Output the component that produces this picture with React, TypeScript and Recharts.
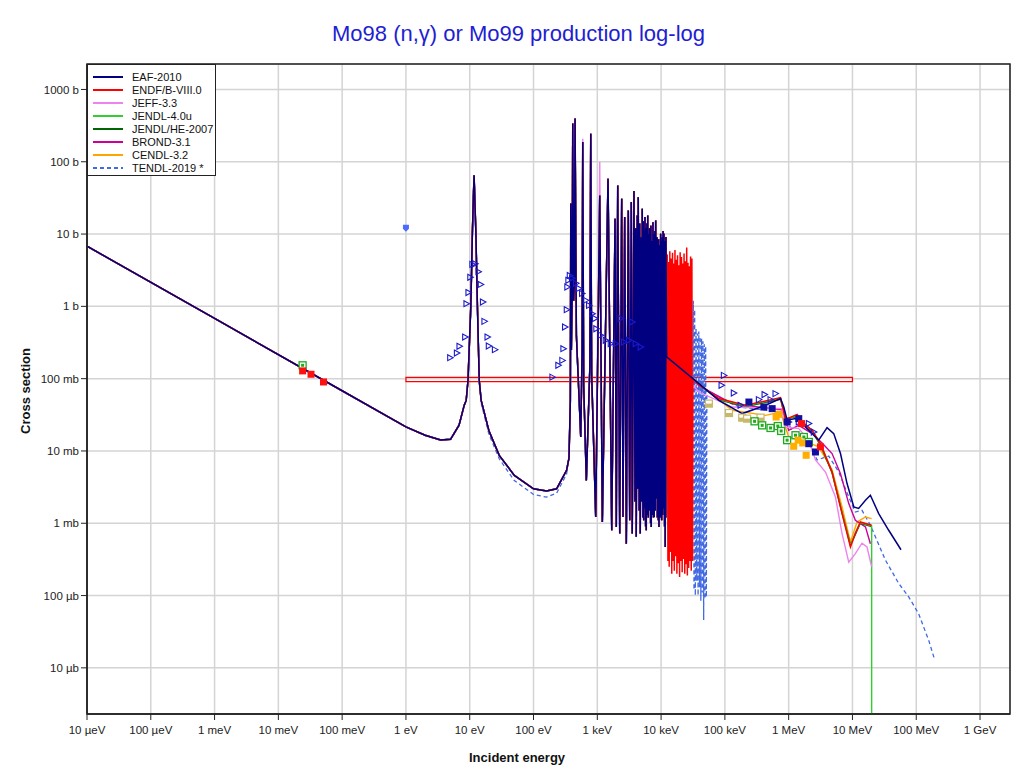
import React from "react";
import {
  ComposedChart,
  Line,
  Scatter,
  XAxis,
  YAxis,
  CartesianGrid,
  ReferenceArea,
} from "recharts";

type Pt = [number, number];

// energy in eV, cross section in barn
const energyTicks = [1e-5, 1e-4, 1e-3, 1e-2, 1e-1, 1, 10, 100, 1e3, 1e4, 1e5, 1e6, 1e7, 1e8, 1e9];
const energyLabels = ["10 µeV", "100 µeV", "1 meV", "10 meV", "100 meV", "1 eV", "10 eV", "100 eV", "1 keV", "10 keV", "100 keV", "1 MeV", "10 MeV", "100 MeV", "1 GeV"];
const xsTicks = [1e-5, 1e-4, 1e-3, 1e-2, 1e-1, 1, 10, 100, 1000];
const xsLabels = ["10 µb", "100 µb", "1 mb", "10 mb", "100 mb", "1 b", "10 b", "100 b", "1000 b"];
const energyDomain: Pt = [1e-5, 2.95e9];
const xsDomain: Pt = [2.3e-6, 2250];

// thermal 1/v part and the 12 eV resonance
const thermalPart: Pt[] = [
  [1e-5, 6.8], [1e-3, 0.68], [0.1, 0.068], [1, 0.0215], [2, 0.0165], [3.5, 0.0142], [5, 0.0145],
  [6.8, 0.0227], [8.2, 0.043], [8.8, 0.05], [9.4, 0.095], [10.4, 1.0], [11.0, 10], [11.4, 32],
  [11.7, 65], [12.0, 32], [12.5, 10], [13.2, 1.0], [14.1, 0.095], [15.1, 0.05], [20, 0.019],
  [29, 0.0087], [50, 0.0046], [100, 0.003], [160, 0.0028], [230, 0.003], [330, 0.0054],
];

const tendlLow: Pt[] = [
  [1e-5, 6.8], [1e-3, 0.68], [0.1, 0.068], [1, 0.0215], [2, 0.0163], [3.5, 0.014], [5, 0.0143],
  [6.8, 0.0225], [8.2, 0.042], [8.8, 0.05], [9.4, 0.095], [10.4, 1.0], [11.0, 10], [11.4, 32],
  [11.7, 65], [12.0, 32], [12.5, 10], [13.2, 1.0], [14.1, 0.09], [15.1, 0.046], [20, 0.017],
  [29, 0.0078], [50, 0.0039], [100, 0.0025], [160, 0.0023], [230, 0.0026], [330, 0.0048],
];

// resolved resonances 350 eV - 12 keV
const resolvedPart: Pt[] = [
  [360, 0.008], [378, 0.05], [384, 26.5], [392, 0.25], [404, 1.5], [412, 339], [426, 1.2],
  [440, 2.5], [448, 397], [470, 0.4], [550, 0.0156], [578, 0.25], [591, 187], [612, 0.08],
  [673, 0.0039], [765, 0.15], [789, 244], [815, 0.12], [944, 0.00122], [1092, 34.2],
  [1199, 0.00104], [1472, 58.2], [1683, 0.0008], [1897, 16.3], [1986, 0.00089], [2089, 47.1],
  [2246, 0.00072], [2412, 30.8], [2529, 0.00122], [2687, 17.2], [2851, 0.00052], [3063, 21.2],
  [3221, 0.0011], [3412, 27.7], [3532, 0.00072], [3758, 39.3], [3900, 0.002], [3990, 12],
  [4083, 0.00065], [4230, 18], [4300, 0.003], [4387, 32.4], [4540, 0.0015], [4620, 14],
  [4718, 0.00072], [4880, 9], [4960, 0.002], [5070, 22.4], [5200, 0.0012], [5260, 15],
  [5333, 0.0011], [5450, 11], [5520, 0.0016], [5589, 17.2], [5720, 0.0009], [5790, 12],
  [5861, 0.0008], [6000, 14], [6080, 0.0013], [6166, 18.1], [6300, 0.0012], [6380, 10],
  [6457, 0.0021], [6580, 12], [6640, 0.0015], [6699, 9.1], [6850, 0.001], [6930, 13],
  [7015, 0.00089], [7200, 8], [7300, 0.0013], [7458, 14.6], [7600, 0.0012], [7700, 10],
  [7816, 0.00122], [8000, 11], [8100, 0.0015], [8222, 15.4], [8380, 0.0022], [8450, 8],
  [8520, 0.0035], [8650, 9], [8740, 0.0012], [8833, 7.4], [9050, 0.0011], [9150, 8.5],
  [9268, 0.00089], [9550, 7], [9680, 0.0012], [9842, 10.1], [10000, 0.0014], [10100, 8],
  [10210, 0.0011], [10450, 9], [10600, 0.0013], [10750, 11], [10900, 0.0016], [11090, 10.1],
  [11350, 0.0009], [11450, 8], [11620, 0.00047], [11750, 7.5], [11840, 0.0012], [11910, 9.1],
  [12220, 0.2],
];

const jeffPeakOverrides: Pt[] = [[591, 208], [1092, 98.9]];

const endfUnresolved: Pt[] = [
  [12500, 5.2], [12800, 0.0003], [13100, 4.1], [13400, 0.00025], [13700, 5.8], [14000, 0.0004],
  [14400, 4.6], [14700, 0.0002], [15100, 5.5], [15400, 0.0003], [15800, 3.9], [16100, 0.00022],
  [16500, 6.0], [16900, 0.00035], [17300, 4.4], [17700, 0.0002], [18100, 5.1], [18600, 0.00028],
  [19000, 3.7], [19500, 0.00018], [19900, 5.6], [20400, 0.0003], [20900, 4.8], [21400, 0.00021],
  [21900, 3.9], [22400, 0.00032], [22900, 5.4], [23500, 0.0002], [24000, 4.2], [24600, 0.00027],
  [25200, 6.5], [25800, 0.00019], [26400, 4.0], [27000, 0.00024], [27700, 3.6], [28300, 0.0003],
  [29000, 4.9], [29700, 0.00022], [30400, 4.6], [31100, 0.0003], [31500, 0.1],
];

const tendlUnresolved: Pt[] = [
  [31500, 0.1], [32000, 1.2], [32800, 0.00012], [33600, 0.9], [34400, 0.0001], [35300, 0.5],
  [36200, 0.00016], [37100, 0.42], [38000, 0.0001], [39000, 0.45], [40000, 0.00013], [41000, 0.38],
  [42000, 0.000085], [43100, 0.36], [44200, 0.00011], [45300, 0.33], [46500, 0.000046], [47700, 0.3],
  [48900, 0.00009], [50000, 0.28], [51200, 0.000095], [52200, 0.07],
];

const eafHigh: Pt[] = [
  [39200, 0.0854], [80500, 0.05], [187000, 0.0329], [434000, 0.0428], [745000, 0.053],
  [839000, 0.0405], [946000, 0.0266], [1.28e6, 0.028], [1.62e6, 0.0239], [2.33e6, 0.0174],
  [2.96e6, 0.0141], [4.0e6, 0.021], [5.09e6, 0.0174], [6.49e6, 0.0092], [8.23e6, 0.00354],
  [1.05e7, 0.00168], [1.25e7, 0.0016], [1.6e7, 0.00208], [1.91e7, 0.00244], [2.58e7, 0.00136],
  [3.7e7, 0.0008], [5.77e7, 0.00043],
];

const endfHigh: Pt[] = [
  [39200, 0.083], [80500, 0.053], [211000, 0.0428], [745000, 0.0547], [892000, 0.0272],
  [1.36e6, 0.0321], [1.62e6, 0.0252], [2.33e6, 0.0193], [3.15e6, 0.0126], [4.79e6, 0.0051],
  [6.87e6, 0.00136], [9.3e6, 0.00047], [1.11e7, 0.00072], [1.33e7, 0.00104], [2e7, 0.00094],
];

const jeffHigh: Pt[] = [
  [39200, 0.0653], [130000, 0.0405], [789000, 0.0385], [892000, 0.0214], [1.44e6, 0.0204],
  [2.07e6, 0.0141], [2.63e6, 0.0075], [3.78e6, 0.0051], [5.41e6, 0.00231], [6.87e6, 0.00072],
  [8.75e6, 0.00029], [1.11e7, 0.00038], [1.41e7, 0.00053], [1.69e7, 0.00047], [2e7, 0.00025],
];

const jendl40High: Pt[] = [
  [39200, 0.083], [80500, 0.052], [211000, 0.042], [745000, 0.054], [892000, 0.027],
  [1.36e6, 0.031], [1.62e6, 0.025], [2.33e6, 0.019], [3.15e6, 0.0125], [4.79e6, 0.0052],
  [6.87e6, 0.0014], [9.3e6, 0.00049], [1.11e7, 0.00074], [1.33e7, 0.00102], [2e7, 0.00092],
  [2e7, 1e-9],
];

const jendlHeHigh: Pt[] = [
  [39200, 0.084], [80500, 0.051], [211000, 0.041], [745000, 0.052], [892000, 0.028],
  [1.36e6, 0.03], [2.33e6, 0.0185], [3.15e6, 0.012], [4.79e6, 0.005], [6.87e6, 0.0014],
  [9.3e6, 0.0005], [1.11e7, 0.0007], [1.33e7, 0.001], [2e7, 0.0009],
];

const brondHigh: Pt[] = [
  [39200, 0.08], [130000, 0.045], [789000, 0.037], [1.0e6, 0.0193], [1.44e6, 0.0226],
  [2.33e6, 0.0174], [3.34e6, 0.0129], [4.79e6, 0.0092], [6.49e6, 0.00486], [8.75e6, 0.00187],
  [1.11e7, 0.0011], [1.6e7, 0.00089], [1.91e7, 0.00052],
];

const cendlHigh: Pt[] = [
  [39200, 0.085], [130000, 0.0365], [434000, 0.0311], [745000, 0.0346], [1.0e6, 0.0156],
  [2.07e6, 0.0129], [2.96e6, 0.0114], [4.79e6, 0.0055], [6.87e6, 0.00168], [9.3e6, 0.00055],
  [1.18e7, 0.00104], [1.6e7, 0.00122], [2e7, 0.00116],
];

const tendlHigh: Pt[] = [
  [71500, 0.059], [166000, 0.0405], [789000, 0.0346], [1.13e6, 0.0193], [2.07e6, 0.0133],
  [2.79e6, 0.0075], [4.25e6, 0.0085], [6.1e6, 0.00512], [8.75e6, 0.00231], [1.11e7, 0.00143],
  [1.41e7, 0.00151], [1.91e7, 0.00094], [3.28e7, 0.00031], [5.31e7, 0.000147], [7.62e7, 9.6e-5],
  [1.09e8, 5.6e-5], [1.57e8, 2.4e-5], [1.94e8, 1.3e-5],
];

// measured points
const triangleData: Pt[] = [
  [4.94, 0.195], [6.29, 0.226], [6.91, 0.28], [8.48, 0.376], [8.89, 1.09], [9.55, 1.55],
  [10.2, 2.52], [11.0, 3.81], [12.2, 3.89], [13.7, 3.02], [14.9, 2.01], [16.1, 1.15],
  [17.0, 0.62], [19.0, 0.376], [19.9, 0.283], [24.8, 0.252],
  [198, 0.105], [245, 0.153], [283, 0.179], [294, 0.26], [312, 0.518], [332, 0.9], [339, 1.85],
  [352, 2.29], [370, 2.68], [402, 2.44], [464, 2.08], [517, 1.77], [577, 1.51], [659, 1.21],
  [742, 1.03], [836, 0.79], [921, 0.68], [966, 0.49], [1132, 0.4], [1355, 0.339], [1624, 0.305],
  [1942, 0.305], [2327, 0.68], [2620, 0.321], [3138, 0.339], [3535, 0.607], [3996, 0.305],
  [4787, 0.274],
  [88700, 0.0809], [96400, 0.111], [138000, 0.0633], [176000, 0.0428], [341000, 0.0513],
  [419000, 0.0602], [520000, 0.0513], [622000, 0.0621], [1.0e6, 0.0252], [1.44e6, 0.0252],
  [2.07e6, 0.0239], [2.48e6, 0.0183],
];
const navySquareData: Pt[] = [
  [238000, 0.0475], [408000, 0.0405], [551000, 0.0385], [946000, 0.0252], [1.44e6, 0.028],
  [2.07e6, 0.0126], [2.63e6, 0.00968],
];
const tanSquareData: Pt[] = [
  [56100, 0.0452], [116000, 0.0335], [187000, 0.0289], [223000, 0.028], [362000, 0.0289],
];
const orangeSquareData: Pt[] = [
  [636000, 0.0295], [701000, 0.0321], [1.2e6, 0.0116], [1.41e6, 0.0141], [1.66e6, 0.0129],
  [1.88e6, 0.00871],
];
const greenSquareData: Pt[] = [
  [0.024, 0.153], [292000, 0.0257], [384000, 0.0226], [520000, 0.0208], [676000, 0.0221],
  [762000, 0.0189], [946000, 0.0141], [1.28e6, 0.0165], [1.73e6, 0.0156], [2.07e6, 0.0133],
];
const redSquareData: Pt[] = [
  [0.024, 0.128], [0.0325, 0.115], [0.051, 0.09], [1.59e6, 0.0239], [3.15e6, 0.0114],
];
const blueMarkerData: Pt[] = [[1.0, 12]];
// broad-band measurement 1 eV - 10 MeV
const bandEnergy: Pt = [1, 1e7];
const bandXs: Pt = [0.091, 0.104];

const toPts = (arr: Pt[]) => arr.map(([e, xs]) => ({ e, xs }));

const jeffResolved: Pt[] = resolvedPart.map(([e, s]) => {
  const o = jeffPeakOverrides.find((p) => p[0] === e);
  return [e, o ? o[1] : s] as Pt;
});

const libraries = [
  { name: "EAF-2010", color: "#000080", dash: "", width: 1.5, data: [...thermalPart, ...resolvedPart, ...eafHigh] },
  { name: "ENDF/B-VIII.0", color: "#ff0000", dash: "", width: 1.5, data: [...thermalPart, ...resolvedPart, ...endfUnresolved, ...endfHigh] },
  { name: "JEFF-3.3", color: "#ee82ee", dash: "", width: 1.4, data: [...thermalPart, ...jeffResolved, ...jeffHigh] },
  { name: "JENDL-4.0u", color: "#33cc33", dash: "", width: 1.4, data: [...thermalPart, ...resolvedPart, ...jendl40High] },
  { name: "JENDL/HE-2007", color: "#006600", dash: "", width: 1.4, data: [...thermalPart, ...resolvedPart, ...jendlHeHigh] },
  { name: "BROND-3.1", color: "#cc0099", dash: "", width: 1.4, data: [...thermalPart, ...resolvedPart, ...brondHigh] },
  { name: "CENDL-3.2", color: "#ffa500", dash: "", width: 1.4, data: [...thermalPart, ...resolvedPart, ...cendlHigh] },
  { name: "TENDL-2019 *", color: "#4169e1", dash: "4 3", width: 1.3, data: [...tendlLow, ...resolvedPart, ...tendlUnresolved, ...tendlHigh] },
];

const FONT = "'Liberation Sans', Arial, Helvetica, sans-serif";

const labelFor = (ticks: number[], labels: string[]) => (v: number) => {
  const i = ticks.findIndex((t) => Math.abs(Math.log10(t) - Math.log10(v)) < 0.01);
  return i >= 0 ? labels[i] : "";
};

const triangleShape = (p: any) => (
  <polygon
    points={`${p.cx - 2.5},${p.cy - 3} ${p.cx + 3},${p.cy} ${p.cx - 2.5},${p.cy + 3}`}
    fill="none"
    stroke="#1a1acc"
    strokeWidth={1.1}
  />
);
const filledSquare = (color: string) => (p: any) => (
  <rect x={p.cx - 3.5} y={p.cy - 3.5} width={7} height={7} fill={color} />
);
const halfSquare = (color: string) => (p: any) => (
  <g>
    <rect x={p.cx - 3.5} y={p.cy - 3.5} width={7} height={7} fill="#fff" stroke={color} strokeWidth={1.2} />
    <rect x={p.cx - 3.5} y={p.cy} width={7} height={3.5} fill={color} />
  </g>
);
const innerSquare = (color: string) => (p: any) => (
  <g>
    <rect x={p.cx - 3.5} y={p.cy - 3.5} width={7} height={7} fill="#fff" stroke={color} strokeWidth={1.3} />
    <rect x={p.cx - 1.5} y={p.cy - 1.5} width={3} height={3} fill={color} />
  </g>
);
const shieldShape = (p: any) => (
  <path d={`M${p.cx - 3},${p.cy - 3.5} h6 v4 l-3,3 l-3,-3 z`} fill="#4d6bff" />
);

export default function App() {
  return (
    <div style={{ position: "absolute", left: 0, top: 0, width: 1020, height: 771, background: "#fff", fontFamily: FONT }}>
      <ComposedChart width={1020} height={771} margin={{ top: 64, right: 10, bottom: 0, left: 0 }}>
        <CartesianGrid stroke="#d4d4d4" strokeWidth={1.5} />
        <XAxis
          type="number"
          dataKey="e"
          scale="log"
          domain={energyDomain}
          allowDataOverflow
          ticks={energyTicks}
          tickFormatter={labelFor(energyTicks, energyLabels)}
          height={57}
          tickMargin={6}
          tick={{ fill: "#222", fontSize: 11.5, fontFamily: FONT }}
          axisLine={{ stroke: "#222", strokeWidth: 1.5 }}
          tickLine={{ stroke: "#222" }}
        />
        <YAxis
          type="number"
          dataKey="xs"
          scale="log"
          domain={xsDomain}
          allowDataOverflow
          ticks={xsTicks}
          tickFormatter={labelFor(xsTicks, xsLabels)}
          width={87}
          tick={{ fill: "#222", fontSize: 11.5, fontFamily: FONT }}
          axisLine={{ stroke: "#222", strokeWidth: 1.5 }}
          tickLine={{ stroke: "#222" }}
        />
        <ReferenceArea
          x1={energyDomain[0]}
          x2={energyDomain[1]}
          y1={xsDomain[0]}
          y2={xsDomain[1]}
          fill="none"
          stroke="#222"
          strokeWidth={1.5}
          fillOpacity={0}
        />
        {[...libraries].reverse().map((lib) => (
          <Line
            key={lib.name}
            data={toPts(lib.data)}
            dataKey="xs"
            type="linear"
            stroke={lib.color}
            strokeWidth={lib.width}
            strokeDasharray={lib.dash || undefined}
            dot={false}
            activeDot={false}
            isAnimationActive={false}
          />
        ))}
        <ReferenceArea
          x1={bandEnergy[0]}
          x2={bandEnergy[1]}
          y1={bandXs[0]}
          y2={bandXs[1]}
          fill="none"
          fillOpacity={0}
          stroke="#ff0000"
          strokeWidth={1.2}
        />
        <Scatter data={toPts(tanSquareData)} dataKey="xs" shape={halfSquare("#c8b96a")} isAnimationActive={false} />
        <Scatter data={toPts(greenSquareData)} dataKey="xs" shape={innerSquare("#1faa1f")} isAnimationActive={false} />
        <Scatter data={toPts(orangeSquareData)} dataKey="xs" shape={filledSquare("#ffae00")} isAnimationActive={false} />
        <Scatter data={toPts(triangleData)} dataKey="xs" shape={triangleShape} isAnimationActive={false} />
        <Scatter data={toPts(navySquareData)} dataKey="xs" shape={filledSquare("#1010a0")} isAnimationActive={false} />
        <Scatter data={toPts(redSquareData)} dataKey="xs" shape={filledSquare("#ff1010")} isAnimationActive={false} />
        <Scatter data={toPts(blueMarkerData)} dataKey="xs" shape={shieldShape} isAnimationActive={false} />
      </ComposedChart>

      <div style={{ position: "absolute", top: 21, left: 0, width: 1020, paddingLeft: 17, boxSizing: "border-box", textAlign: "center", fontSize: 22, lineHeight: "26px", color: "#1e1ed2" }}>
        Mo98 (n,γ) or Mo99 production log-log
      </div>
      <div style={{ position: "absolute", top: 750, left: 469, fontSize: 13, fontWeight: "bold", color: "#111", whiteSpace: "nowrap" }}>
        Incident energy
      </div>
      <div style={{ position: "absolute", left: 25, top: 391, transform: "translate(-50%, -50%) rotate(-90deg)", fontSize: 13, fontWeight: "bold", color: "#111", whiteSpace: "nowrap" }}>
        Cross section
      </div>

      <div style={{ position: "absolute", left: 87, top: 64, width: 129, height: 112, border: "1px solid #222", background: "#fff", boxSizing: "border-box", paddingTop: 5 }}>
        {libraries.map((lib) => (
          <div key={lib.name} style={{ display: "flex", alignItems: "center", height: 13.1 }}>
            <svg width={40} height={6} style={{ marginLeft: 4 }}>
              <line x1={1} y1={3} x2={31} y2={3} stroke={lib.color} strokeWidth={2} strokeDasharray={lib.dash || undefined} />
            </svg>
            <span style={{ fontSize: 11, color: "#111" }}>{lib.name}</span>
          </div>
        ))}
      </div>
    </div>
  );
}
